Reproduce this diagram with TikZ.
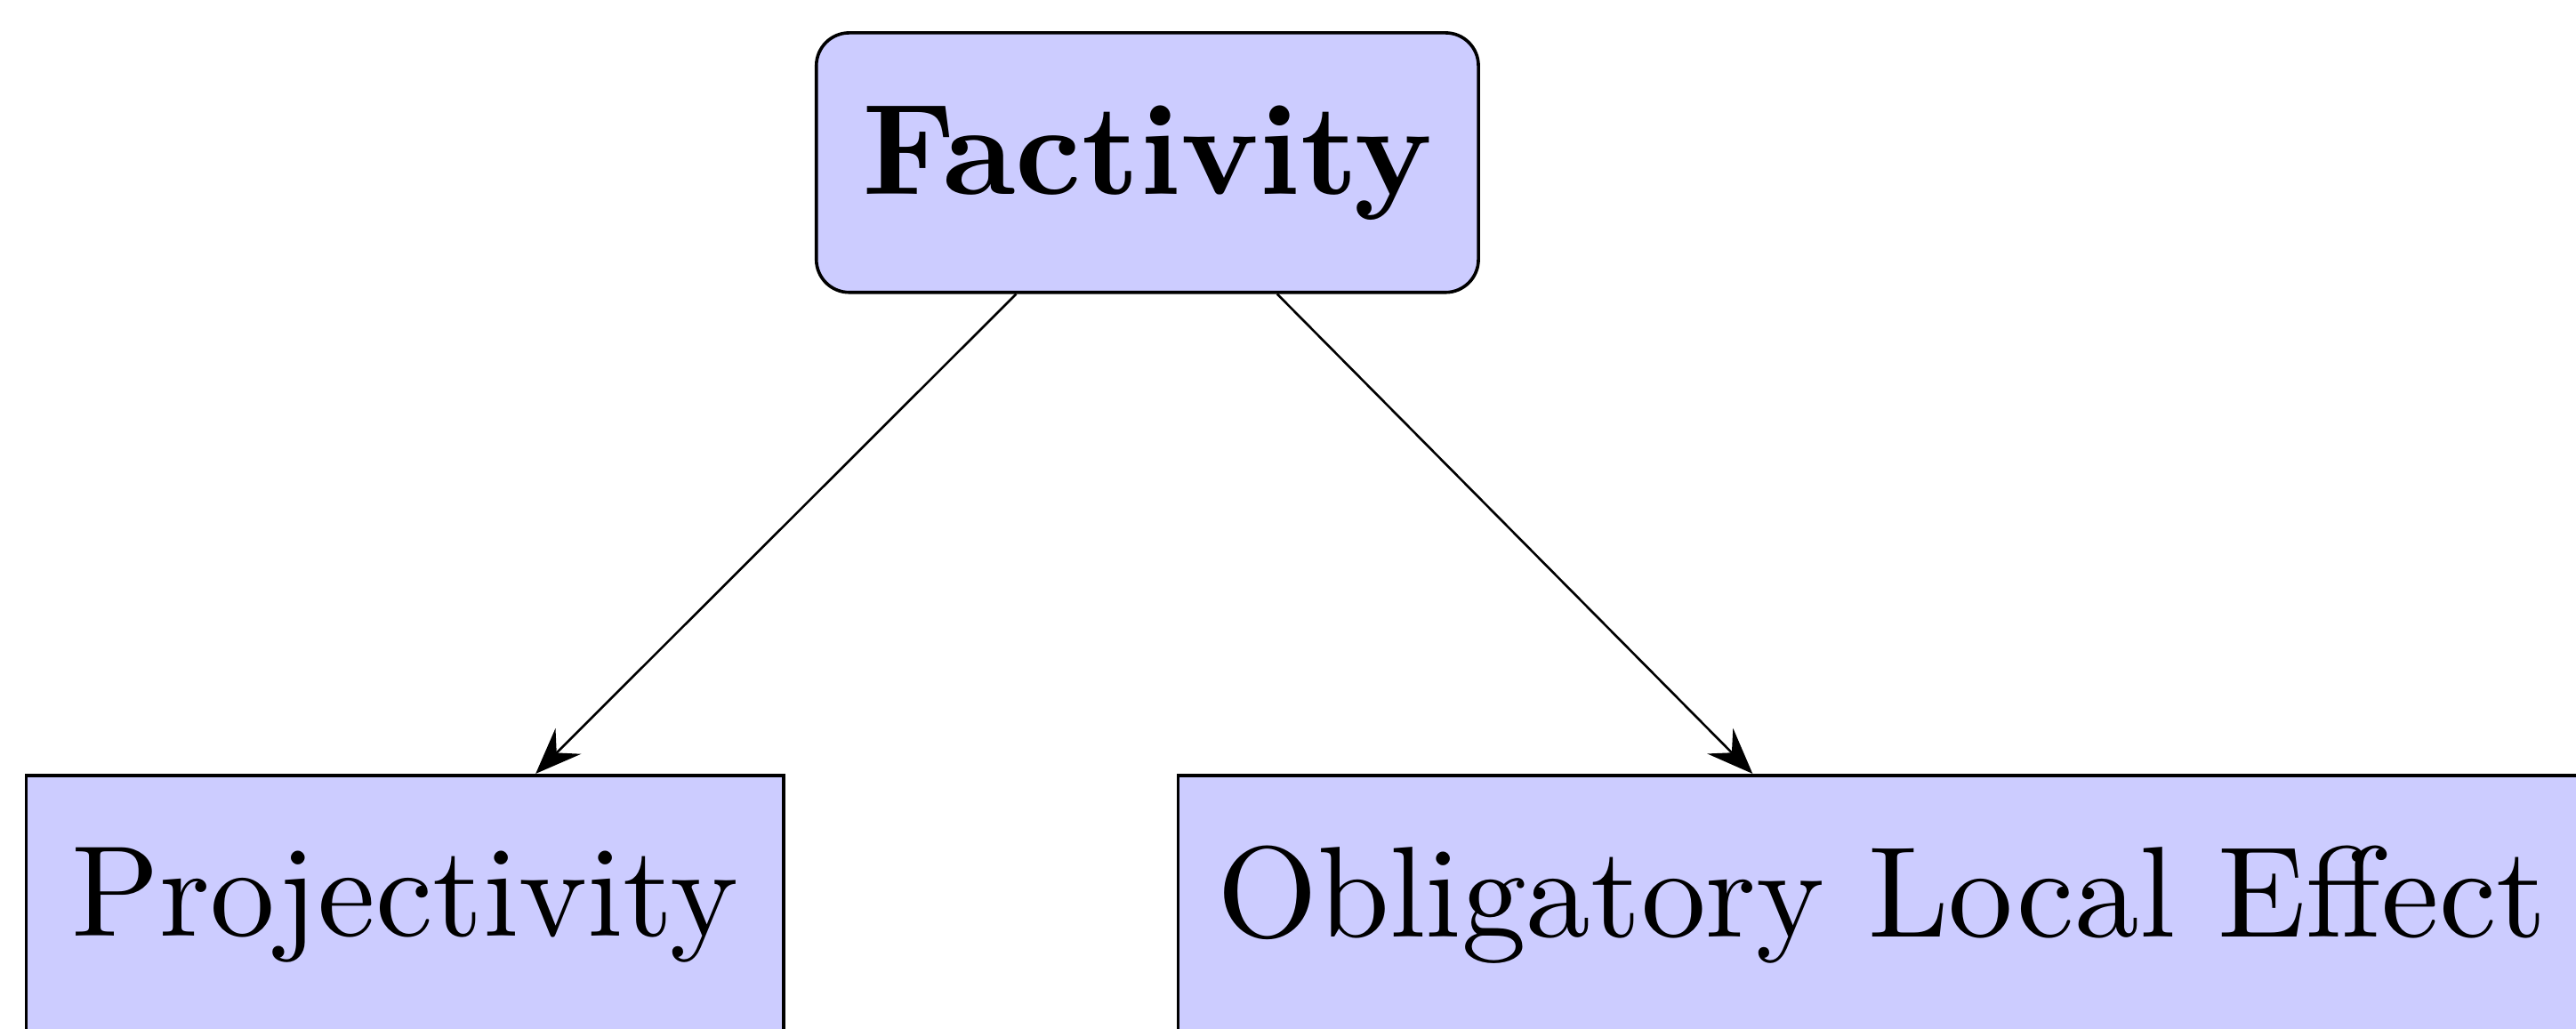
\documentclass[tikz,border=0pt]{standalone}
\usepackage{fontspec}
\setmainfont{lmroman10-regular.otf}[BoldFont=lmroman10-bold.otf]
\usepackage{tikz}
\usetikzlibrary{arrows.meta, positioning}
\tikzset{
>={Stealth[length=7mm, width=5.5mm, inset=2.5mm]}, % big arrow heads
box/.style={draw, line width=1.4pt, fill=blue!20, inner sep=0pt, minimum height=3.95cm, font=\fontsize{56}{62}\selectfont}, % the blue boxes
}

\begin{document}
\begin{tikzpicture}[->]
        \useasboundingbox (0,0) rectangle (39.2,15.65);
        \node[box, rounded corners=.5cm, minimum width=10.075cm] at (17.46,13.175) (fact) {\textbf{Factivity}};
        \node[box, minimum width=11.525cm] at (6.16,1.875) (proj) {Projectivity};
        \node[box, minimum width=21.425cm] at (28.64,1.875) (ole) {Obligatory Local Effect};
        \draw[line width=1pt]
        (fact) edge (proj)
        (fact) edge (ole)
        ;
    \end{tikzpicture}
\end{document}
